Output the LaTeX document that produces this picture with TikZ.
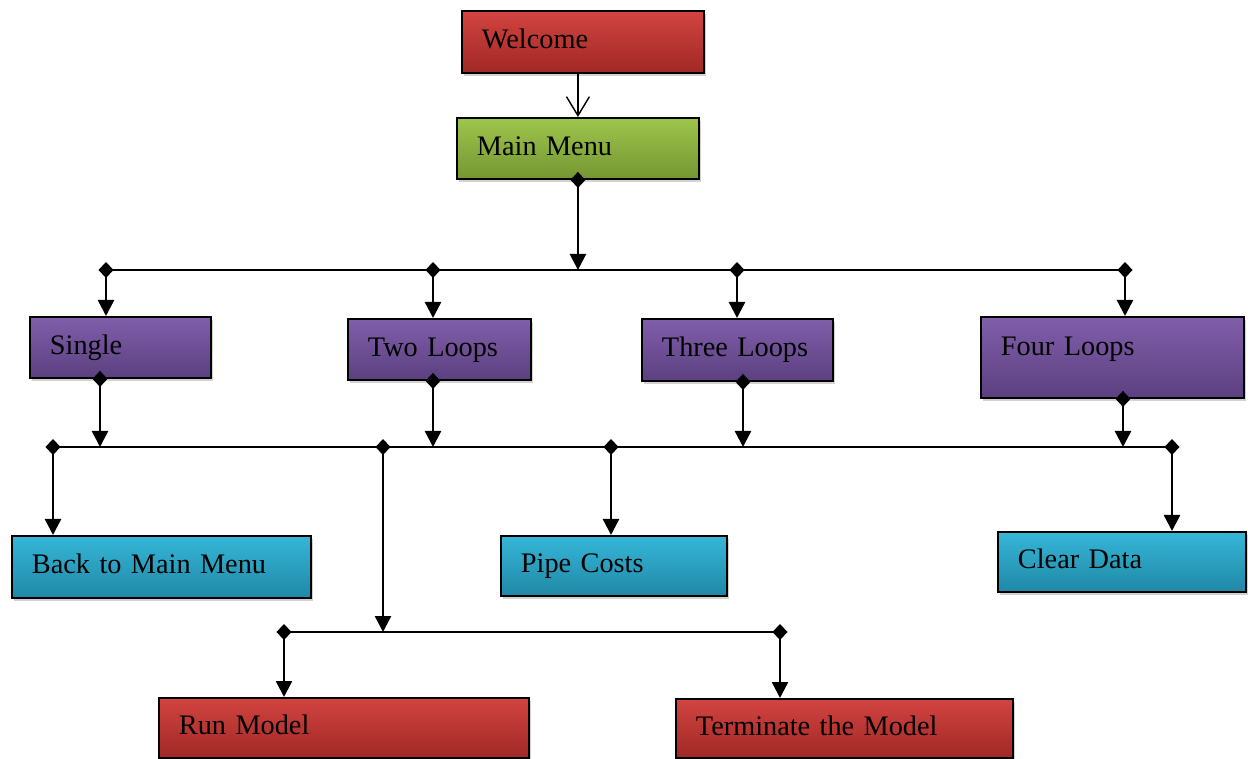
\documentclass[tikz,border=0pt]{standalone}
\usepackage{fontspec}
\setmainfont{Liberation Serif}
\usetikzlibrary{arrows.meta,shadows}

\definecolor{redtop}{RGB}{210,68,64}
\definecolor{redbot}{RGB}{160,40,38}
\definecolor{greentop}{RGB}{158,197,76}
\definecolor{greenbot}{RGB}{116,150,50}
\definecolor{purptop}{RGB}{128,94,170}
\definecolor{purpbot}{RGB}{92,64,128}
\definecolor{bluetop}{RGB}{54,182,216}
\definecolor{bluebot}{RGB}{32,136,166}

\begin{document}
\begin{tikzpicture}[x=0.02cm, y=-0.02cm,
			box/.style 2 args={rectangle, draw, line width=1.1pt, anchor=north west, minimum width=#1, minimum height=#2, text width=#1-0.8cm, inner xsep=0.4cm, align=left, text height=0.4cm, text depth=0.12cm, font=\fontsize{16.1}{19}\selectfont, drop shadow={shadow xshift=0.04cm, shadow yshift=-0.07cm, fill=black!35}},
			redbox/.style={top color=redtop, bottom color=redbot},
			greenbox/.style={top color=greentop, bottom color=greenbot},
			purpbox/.style={top color=purptop, bottom color=purpbot},
			bluebox/.style={top color=bluetop, bottom color=bluebot},
			branch/.style={{Diamond[length=0.32cm,width=0.3cm]}-{Triangle[length=0.32cm,width=0.32cm]}, line width=1.4pt, shorten <=-0.16cm},
			bus/.style={line width=1pt},
			openarrow/.style={-{Straight Barb[length=0.38cm,width=0.46cm]}, line width=0.8pt}
		]
		\useasboundingbox (0,0) rectangle (1248,759);
		% Nodes
		\node[box={4.84cm}{1.24cm}, redbox] (welcome) at (461,10) {Welcome};
		\node[box={4.84cm}{1.22cm}, greenbox] (menu) at (456,117) {Main Menu};
		\node[box={3.62cm}{1.22cm}, purpbox] (single) at (29,316) {Single};
		\node[box={3.66cm}{1.22cm}, purpbox] (two) at (347,318) {Two~Loops};
		\node[box={3.82cm}{1.24cm}, purpbox] (three) at (641,318) {Three~Loops};
		\node[box={5.26cm}{1.62cm}, purpbox, text depth=0.46cm] (four) at (980,316) {Four Loops};
		\node[box={5.98cm}{1.24cm}, bluebox] (back) at (11,535) {Back to Main Menu};
		\node[box={4.52cm}{1.2cm}, bluebox] (pipe) at (500,535) {Pipe Costs};
		\node[box={4.96cm}{1.2cm}, bluebox] (clear) at (997,531) {Clear Data};
		\node[box={7.4cm}{1.2cm}, redbox] (run) at (158,697) {Run Model};
		\node[box={6.74cm}{1.18cm}, redbox] (term) at (675,698) {Terminate the Model};
		% Junctions
		\coordinate (j1) at (106,270);
		\coordinate (j2) at (433,270);
		\coordinate (j3) at (737,270);
		\coordinate (j4) at (1125,270);
		\coordinate (s1) at (100,447);
		\coordinate (s2) at (433,447);
		\coordinate (s3) at (743,447);
		\coordinate (s4) at (1123,447);
		\coordinate (k1) at (53,447);
		\coordinate (k2) at (383,447);
		\coordinate (k3) at (611,447);
		\coordinate (k4) at (1172,447);
		\coordinate (m1) at (383,632);
		\coordinate (l1) at (284,632);
		\coordinate (l2) at (780,632);
		% Buses
		\draw[bus] (j1) -- (j4);
		\draw[bus] (k1) -- (k4);
		\draw[bus] (l1) -- (l2);
		% Arrows
		\draw[openarrow] (welcome.south -| menu.south) -- (menu.north);
		\draw[branch] (menu.south) -- (menu.south |- j1);
		\draw[branch] (j1) -- (j1 |- single.north);
		\draw[branch] (j2) -- (j2 |- two.north);
		\draw[branch] (j3) -- (j3 |- three.north);
		\draw[branch] (j4) -- (j4 |- four.north);
		\draw[branch] (s1 |- single.south) -- (s1);
		\draw[branch] (s2 |- two.south) -- (s2);
		\draw[branch] (s3 |- three.south) -- (s3);
		\draw[branch] (s4 |- four.south) -- (s4);
		\draw[branch] (k1) -- (k1 |- back.north);
		\draw[branch] (k2) -- (m1);
		\draw[branch] (k3) -- (k3 |- pipe.north);
		\draw[branch] (k4) -- (k4 |- clear.north);
		\draw[branch] (l1) -- (l1 |- run.north);
		\draw[branch] (l2) -- (l2 |- term.north);
	\end{tikzpicture}
\end{document}
